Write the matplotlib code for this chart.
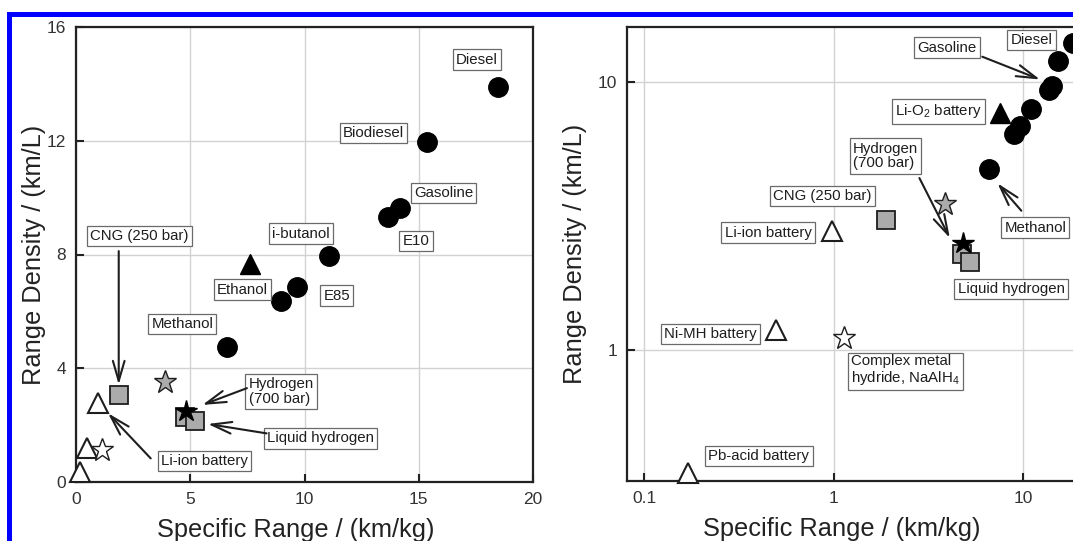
import matplotlib
matplotlib.use("Agg")
import matplotlib.pyplot as plt
from matplotlib.patches import Rectangle

plt.rcParams['font.family'] = ['Liberation Sans', 'DejaVu Sans']
plt.rcParams['mathtext.fontset'] = 'custom'
plt.rcParams['mathtext.rm'] = 'Liberation Sans'
plt.rcParams['mathtext.it'] = 'Liberation Sans:italic'

# ---------------- data ----------------
fuel_names = ['Diesel', 'Biodiesel', 'Gasoline', 'E10', 'i-butanol', 'E85', 'Ethanol', 'Methanol']
fuel_sr = [18.45, 15.35, 14.17, 13.65, 11.07, 9.65, 8.95, 6.62]
fuel_rd = [13.9, 11.97, 9.65, 9.32, 7.95, 6.85, 6.38, 4.73]

lio2_sr = [7.6]
lio2_rd = [7.67]

battery_names = ['Li-ion battery', 'Ni-MH battery', 'Pb-acid battery']
battery_sr = [0.98, 0.50, 0.17]
battery_rd = [2.78, 1.19, 0.35]

tank_names = ['CNG (250 bar)', 'Hydrogen tank', 'Liquid hydrogen']
tank_sr = [1.9, 4.75, 5.22]
tank_rd = [3.06, 2.28, 2.13]

h2_700_sr = [4.8]
h2_700_rd = [2.5]

gray_star_sr = [3.88]
gray_star_rd = [3.52]

hydride_sr = [1.14]
hydride_rd = [1.11]

xticks_lin = [0, 5, 10, 15, 20]
yticks_lin = [0, 4, 8, 12, 16]
xticks_log = [0.1, 1, 10]
xticklabels_log = ['0.1', '1', '10']
yticks_log = [1, 10]
yticklabels_log = ['1', '10']

# ---------------- figure ----------------
W, H = 1073, 541
fig = plt.figure(figsize=(W / 100, H / 100), dpi=100)


def px_axes(l, r, t, b):
    return [l / W, 1 - b / H, (r - l) / W, (b - t) / H]


ax1 = fig.add_axes(px_axes(76, 533, 27, 482))
ax2 = fig.add_axes(px_axes(627, 1098.4, 27, 481))

TXT = '#1e1e1e'
GRAY = '#ababab'
box = dict(boxstyle='square,pad=0.22', fc='white', ec='#6a6a6a', lw=0.9)
arrow = dict(arrowstyle='->,head_length=1.45,head_width=0.42', color='#1e1e1e',
             lw=1.5, shrinkA=0, shrinkB=0, mutation_scale=10)


def draw_marks(ax):
    ax.plot(tank_sr, tank_rd, 's', ms=12.5, mfc=GRAY, mec='#1e1e1e', mew=1.3, zorder=3, ls='none')
    ax.plot(fuel_sr, fuel_rd, 'o', ms=14, mfc='black', mec='black', zorder=4, ls='none')
    ax.plot(lio2_sr, lio2_rd, '^', ms=14, mfc='black', mec='black', zorder=4, ls='none')
    ax.plot(battery_sr, battery_rd, '^', ms=14, mfc='white', mec='#1e1e1e', mew=1.5, zorder=4, ls='none',
            clip_on=False)
    ax.plot(h2_700_sr, h2_700_rd, '*', ms=16, mfc='black', mec='black', zorder=5, ls='none')
    ax.plot(gray_star_sr, gray_star_rd, '*', ms=17, mfc=GRAY, mec='#1e1e1e', mew=1.0, zorder=4, ls='none')
    ax.plot(hydride_sr, hydride_rd, '*', ms=17, mfc='white', mec='#1e1e1e', mew=1.0, zorder=4, ls='none')


def style(ax):
    for s in ax.spines.values():
        s.set_linewidth(1.6)
        s.set_color('#222222')
    ax.tick_params(which='major', direction='in', length=6, width=1.5, labelsize=12.5,
                   labelcolor='#333333', color='#222222', pad=7)
    ax.tick_params(which='minor', length=0)
    ax.grid(True, which='major', color='#d2d2d2', lw=1.0, zorder=0)
    ax.set_axisbelow(True)
    ax.set_xlabel('Specific Range / (km/kg)', fontsize=18.3, color='#222222')
    ax.set_ylabel('Range Density / (km/L)', fontsize=18.3, color='#222222')


def label(ax, x, y, s, ha='center', ma='center'):
    ax.text(x, y, s, ha=ha, va='center', multialignment=ma, fontsize=10.8, color=TXT,
            bbox=box, zorder=6, linespacing=1.05)


def arr(ax, start, tip):
    ax.annotate('', xy=tip, xytext=start, arrowprops=arrow, zorder=6)


# ---------------- left panel (linear) ----------------
draw_marks(ax1)
style(ax1)
ax1.set_xlim(0, 20)
ax1.set_ylim(0, 16)
ax1.set_xticks(xticks_lin)
ax1.set_yticks(yticks_lin)
ax1.xaxis.set_label_coords((296 - 76) / 457, -0.079)
ax1.yaxis.set_label_coords(-0.066, 0.5)

label(ax1, 17.54, 14.85, 'Diesel')
label(ax1, 13.02, 12.27, 'Biodiesel')
label(ax1, 16.08, 10.16, 'Gasoline')
label(ax1, 14.88, 8.47, 'E10')
label(ax1, 9.84, 8.73, 'i-butanol')
label(ax1, 2.77, 8.65, 'CNG (250 bar)')
label(ax1, 7.28, 6.76, 'Ethanol')
label(ax1, 11.41, 6.55, 'E85')
label(ax1, 4.65, 5.55, 'Methanol')
label(ax1, 8.98, 3.19, 'Hydrogen\n(700 bar)', ma='left')
label(ax1, 10.7, 1.53, 'Liquid hydrogen')
label(ax1, 5.63, 0.74, 'Li-ion battery')

arr(ax1, (1.87, 8.12), (1.87, 3.42))
arr(ax1, (7.48, 3.3), (5.53, 2.71))
arr(ax1, (8.34, 1.71), (5.77, 2.04))
arr(ax1, (3.27, 0.83), (1.4, 2.42))

# ---------------- right panel (log-log) ----------------
draw_marks(ax2)
ax2.set_xscale('log')
ax2.set_yscale('log')
style(ax2)
ax2.set_xlim(0.0813, 25)
ax2.set_ylim(0.326, 16)
ax2.set_xticks(xticks_log)
ax2.set_xticklabels(xticklabels_log)
ax2.set_yticks(yticks_log)
ax2.set_yticklabels(yticklabels_log)
ax2.xaxis.set_label_coords((842 - 627) / 471.4, -0.079)
ax2.yaxis.set_label_coords((587 - 627) / 471.4, 0.5)

label(ax2, 11.1, 14.3, 'Diesel')
label(ax2, 3.98, 13.4, 'Gasoline')
label(ax2, 3.59, 7.76, 'Li-O$_2$ battery')
label(ax2, 1.88, 5.29, 'Hydrogen\n(700 bar)', ma='left')
label(ax2, 0.875, 3.75, 'CNG (250 bar)')
label(ax2, 0.452, 2.74, 'Li-ion battery')
label(ax2, 11.6, 2.86, 'Methanol')
label(ax2, 8.65, 1.69, 'Liquid hydrogen')
label(ax2, 0.224, 1.15, 'Ni-MH battery')
label(ax2, 2.4, 0.84, 'Complex metal\nhydride, NaAlH$_4$', ma='left')
label(ax2, 0.404, 0.404, 'Pb-acid battery')

arr(ax2, (6.1, 12.4), (12.3, 10.2))
arr(ax2, (2.84, 4.38), (4.11, 2.62))
arr(ax2, (9.8, 3.31), (7.33, 4.19))

# ---------------- blue frame ----------------
fig.add_artist(Rectangle((7 / W, 1 - 17 / H), (W - 7) / W, 5 / H, transform=fig.transFigure,
                         color='#0000ff', lw=0, zorder=10))
fig.add_artist(Rectangle((7 / W, 0), 5 / W, (H - 12) / H, transform=fig.transFigure,
                         color='#0000ff', lw=0, zorder=10))

fig.savefig('out.png', dpi=100)
